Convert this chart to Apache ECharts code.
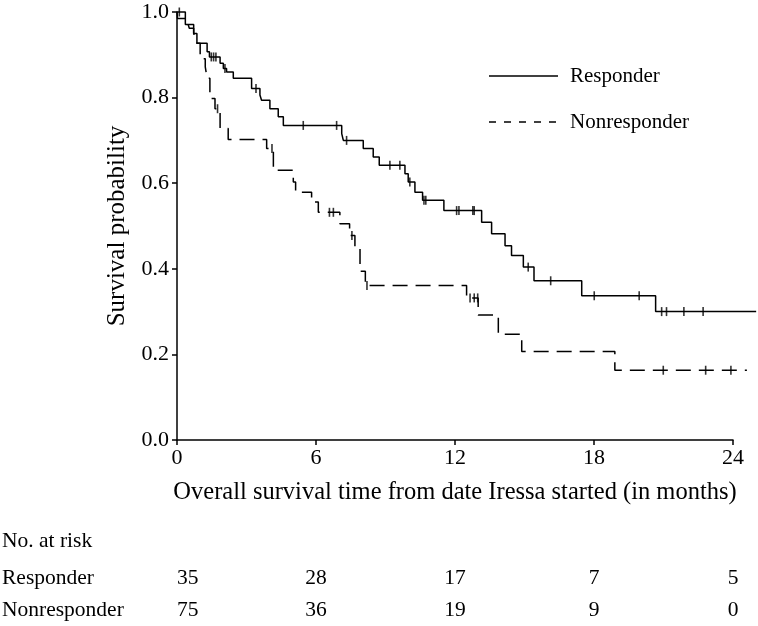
<!DOCTYPE html>
<html>
<head>
<meta charset="utf-8">
<script src="https://cdn.jsdelivr.net/npm/echarts@6/dist/echarts.min.js"></script>
<style>
html,body{margin:0;padding:0;background:#fff;}
#main{width:758px;height:626px;}
</style>
</head>
<body>
<div id="main"></div>
<script>
// ---- Data ----
const xTicks = [0, 6, 12, 18, 24];
const yTicks = [0, 0.2, 0.4, 0.6, 0.8, 1.0];
const plotXMax = 25; // curves run slightly beyond the last axis tick

// Responder: step times (months) and survival after each step
const responderT = [0, 0.36, 0.72, 0.86, 1.30, 1.40, 1.86, 2.0, 2.14, 2.43, 3.22, 3.58, 3.65, 4.01, 4.37, 4.59, 7.11, 7.18, 8.04, 8.47, 8.73, 9.84, 9.98, 10.27, 10.6, 11.52, 13.15, 13.58, 14.16, 14.44, 14.95, 15.41, 17.47, 20.66, 25];
const responderS = [1.0, 0.971, 0.950, 0.927, 0.907, 0.895, 0.880, 0.868, 0.860, 0.845, 0.821, 0.806, 0.794, 0.774, 0.755, 0.735, 0.716, 0.700, 0.681, 0.661, 0.642, 0.622, 0.603, 0.579, 0.560, 0.536, 0.509, 0.482, 0.454, 0.431, 0.404, 0.372, 0.337, 0.300, 0.300];
const responderCensored = [0.1, 1.48, 1.58, 1.68, 2.07, 3.41, 5.45, 6.89, 7.32, 9.19, 9.62, 10.05, 10.66, 10.74, 12.07, 12.17, 12.77, 12.83, 15.16, 16.13, 18.01, 19.95, 20.92, 21.13, 21.88, 22.71];

// Nonresponder
const nonresponderT = [0, 0.02, 0.47, 0.53, 0.72, 0.79, 0.86, 1.0, 1.22, 1.30, 1.42, 1.64, 1.86, 2.21, 3.87, 4.16, 5.02, 5.12, 5.81, 6.10, 7.03, 7.45, 7.68, 7.90, 8.13, 12.50, 13.0, 13.87, 14.88, 18.9, 24.6];
const nonresponderS = [1.0, 0.985, 0.973, 0.962, 0.950, 0.938, 0.927, 0.891, 0.872, 0.845, 0.798, 0.774, 0.728, 0.702, 0.681, 0.630, 0.603, 0.579, 0.556, 0.532, 0.505, 0.478, 0.450, 0.394, 0.361, 0.332, 0.292, 0.247, 0.207, 0.163, 0.163];
const nonresponderCensored = [1.75, 4.1, 6.58, 6.75, 7.55, 8.2, 12.65, 12.83, 12.98, 20.99, 22.82, 23.91];

// Number at risk table
const atRiskTimes = [0, 6, 12, 18, 24];
const responderAtRisk = [35, 28, 17, 7, 5];
const nonresponderAtRisk = [75, 36, 19, 9, 0];

const groupNames = ['Responder', 'Nonresponder'];
const xTitle = 'Overall survival time from date Iressa started (in months)';
const yTitle = 'Survival probability';
const riskTitle = 'No. at risk';

// ---- helpers ----
function stepValue(T, S, t) {
  let v = S[0];
  for (let i = 0; i < T.length; i++) { if (T[i] <= t) v = S[i]; }
  return v;
}
function pairs(T, S) { return T.map((t, i) => [t, S[i]]); }
function censorPts(C, T, S) { return C.map(t => [t, stepValue(T, S, t)]); }

const FONT = '"Liberation Serif", "Times New Roman", serif';
const GL = 177, GR = 25, GT = 12, GB = 186, W = 758;
const pxPerUnit = (W - GL - GR) / (xTicks[xTicks.length - 1] - xTicks[0]);
const plotRight = W - GL - pxPerUnit * (plotXMax - xTicks[0]);

const chart = echarts.init(document.getElementById('main'), null, {renderer: 'canvas'});

const hiddenAxis = {show: false, axisLine: {show: false}, axisTick: {show: false}, axisLabel: {show: false}, splitLine: {show: false}};

const option = {
  animation: false,
  backgroundColor: '#fff',
  grid: [
    {left: GL, right: GR, top: GT, bottom: GB, containLabel: false},
    {left: GL, right: plotRight, top: GT, bottom: GB, containLabel: false}
  ],
  xAxis: [{
    gridIndex: 0,
    type: 'value', min: xTicks[0], max: xTicks[xTicks.length - 1], interval: 6,
    name: xTitle, nameLocation: 'middle', nameGap: 40,
    nameTextStyle: {fontFamily: FONT, fontSize: 24.5, color: '#000'},
    axisLine: {show: true, onZero: false, lineStyle: {color: '#000', width: 1.5}},
    axisTick: {show: true, length: 5, lineStyle: {color: '#000', width: 1.5}},
    axisLabel: {fontFamily: FONT, fontSize: 22, color: '#000', margin: 7},
    splitLine: {show: false}
  }, Object.assign({gridIndex: 1, type: 'value', min: xTicks[0], max: plotXMax}, hiddenAxis)],
  yAxis: [{
    gridIndex: 0,
    type: 'value', min: yTicks[0], max: yTicks[yTicks.length - 1], interval: 0.2,
    name: yTitle, nameLocation: 'middle', nameGap: 47,
    nameTextStyle: {fontFamily: FONT, fontSize: 25, color: '#000'},
    axisLine: {show: true, onZero: false, lineStyle: {color: '#000', width: 1.5}},
    axisTick: {show: true, length: 5, lineStyle: {color: '#000', width: 1.5}},
    axisLabel: {fontFamily: FONT, fontSize: 22, color: '#000', margin: 8,
      formatter: v => v.toFixed(1)},
    splitLine: {show: false}
  }, Object.assign({gridIndex: 1, type: 'value', min: yTicks[0], max: yTicks[yTicks.length - 1]}, hiddenAxis)],
  series: [
    {
      name: groupNames[0], type: 'line', step: 'end', symbol: 'none', clip: false,
      xAxisIndex: 1, yAxisIndex: 1,
      data: pairs(responderT, responderS),
      lineStyle: {color: '#000', width: 1.5, type: 'solid'}
    },
    {
      name: groupNames[1], type: 'line', step: 'end', symbol: 'none', clip: false,
      xAxisIndex: 1, yAxisIndex: 1,
      data: pairs(nonresponderT, nonresponderS),
      lineStyle: {color: '#000', width: 1.5, type: [15, 8]}
    },
    {
      name: groupNames[0] + ' censored', type: 'scatter', clip: false,
      xAxisIndex: 1, yAxisIndex: 1,
      symbol: 'rect', symbolSize: [1.6, 9],
      itemStyle: {color: '#000'},
      data: censorPts(responderCensored, responderT, responderS)
    },
    {
      name: groupNames[1] + ' censored', type: 'scatter', clip: false,
      xAxisIndex: 1, yAxisIndex: 1,
      symbol: 'rect', symbolSize: [1.6, 9],
      itemStyle: {color: '#000'},
      data: censorPts(nonresponderCensored, nonresponderT, nonresponderS)
    }
  ]
};
chart.setOption(option);

// Legend and risk table as graphic elements
const graphics = [];
graphics.push({type: 'line', shape: {x1: 489, y1: 76, x2: 558, y2: 76},
  style: {stroke: '#000', lineWidth: 1.5}});
graphics.push({type: 'text', x: 570, y: 76,
  style: {text: groupNames[0], font: '21px ' + FONT, fill: '#000', textVerticalAlign: 'middle', textAlign: 'left'}});
graphics.push({type: 'line', shape: {x1: 489, y1: 122, x2: 558, y2: 122},
  style: {stroke: '#000', lineWidth: 1.5, lineDash: [7, 8]}});
graphics.push({type: 'text', x: 570, y: 122,
  style: {text: groupNames[1], font: '21px ' + FONT, fill: '#000', textVerticalAlign: 'middle', textAlign: 'left'}});

graphics.push({type: 'text', x: 2, y: 541,
  style: {text: riskTitle, font: '21.5px ' + FONT, fill: '#000', textVerticalAlign: 'middle'}});
const rows = [[groupNames[0], responderAtRisk, 578], [groupNames[1], nonresponderAtRisk, 610]];
rows.forEach(([label, vals, y]) => {
  graphics.push({type: 'text', x: 2, y: y,
    style: {text: label, font: '21.5px ' + FONT, fill: '#000', textVerticalAlign: 'middle'}});
  atRiskTimes.forEach((t, i) => {
    const px = chart.convertToPixel({xAxisIndex: 0}, t);
    graphics.push({type: 'text', x: px, y: y,
      style: {text: String(vals[i]), font: '21.5px ' + FONT, fill: '#000',
        textVerticalAlign: 'middle', textAlign: i === 0 ? 'left' : 'center'}});
  });
});
chart.setOption({graphic: graphics});
</script>
</body>
</html>
